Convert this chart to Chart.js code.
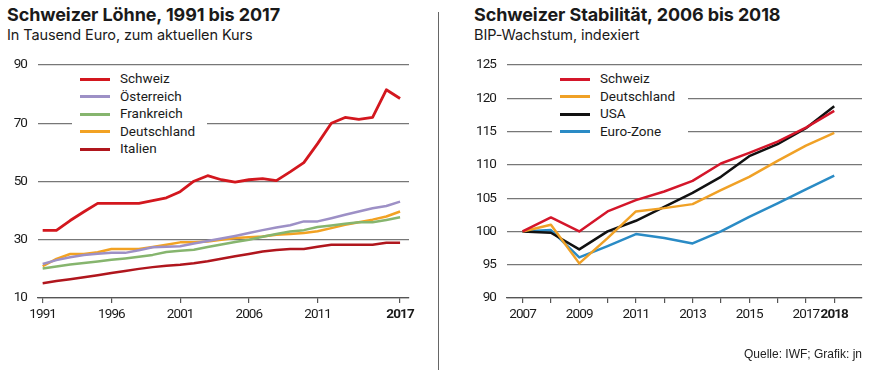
<!DOCTYPE html>
<html>
<head>
<meta charset="utf-8">
<script src="https://cdn.jsdelivr.net/npm/chart.js@4.4.1/dist/chart.umd.min.js"></script>
<style>
    body { margin: 0; background: #fff; width: 873px; height: 374px; overflow: hidden; position: relative; font-family: Roboto, "Liberation Sans", sans-serif; color: #1a1a1a; }
    .title { position: absolute; font-family: Inter, Roboto, sans-serif; font-weight: bold; font-size: 18px; line-height: 20px; white-space: nowrap; letter-spacing: -0.1px; }
    .sub { position: absolute; font-family: Inter, Roboto, sans-serif; font-size: 14.5px; line-height: 18px; white-space: nowrap; letter-spacing: -0.1px; }
    .cv { position: absolute; top: 0; }
    .legend { position: absolute; background: #fff; }
    .legend div { position: relative; height: 17.6px; font-size: 13.5px; line-height: 17.6px; padding-left: 48px; white-space: nowrap; }
    .legend span { position: absolute; left: 8px; top: 7.5px; width: 30px; height: 3px; }
    #divider { position: absolute; left: 438px; top: 12px; width: 1px; height: 358px; background: #666; }
    #source { position: absolute; right: 11px; top: 347px; font-family: "Liberation Sans", Arial, sans-serif; font-size: 12px; color: #222; }
</style>
</head>
<body>
<div class="title" style="left:7px; top:5px;">Schweizer Löhne, 1991 bis 2017</div>
<div class="sub" style="left:7px; top:26px;">In Tausend Euro, zum aktuellen Kurs</div>
<div class="title" style="left:474px; top:5px;">Schweizer Stabilität, 2006 bis 2018</div>
<div class="sub" style="left:474px; top:26px;">BIP-Wachstum, indexiert</div>
<div id="divider"></div>

<div class="cv" style="left:0; width:430px; height:374px;"><canvas id="lohnChart"></canvas></div>
<div class="cv" style="left:440px; width:433px; height:374px;"><canvas id="bipChart"></canvas></div>

<div class="legend" id="legendLeft" style="left:72px; top:70px; width:135px;"></div>
<div class="legend" id="legendRight" style="left:552px; top:70px; width:136px;"></div>

<div id="source">Quelle: IWF; Grafik: jn</div>

<script>
// Löhne, in Tausend Euro
const lohnYears = [1991, 1992, 1993, 1994, 1995, 1996, 1997, 1998, 1999, 2000,
    2001, 2002, 2003, 2004, 2005, 2006, 2007, 2008, 2009, 2010,
    2011, 2012, 2013, 2014, 2015, 2016, 2017];
const lohnSchweiz = [33.2, 33.2, 36.6, 39.6, 42.5, 42.5, 42.5, 42.5, 43.4, 44.4,
    46.5, 50.1, 52, 50.6, 49.8, 50.6, 51, 50.3, 53.3, 56.5,
    63, 70, 72, 71.3, 72, 81.5, 78.5];
const lohnOesterreich = [21.7, 23, 24, 24.8, 25.2, 25.5, 25.5, 26.4, 27.4, 27.6,
    27.8, 28.7, 29.6, 30.4, 31.3, 32.3, 33.3, 34.2, 35, 36.3,
    36.3, 37.4, 38.6, 39.7, 40.8, 41.6, 43.1];
const lohnFrankreich = [20.1, 20.8, 21.5, 22, 22.5, 23.1, 23.6, 24.2, 24.8, 25.8,
    26.2, 26.6, 27.5, 28.4, 29.2, 30, 31, 32, 32.8, 33.3,
    34.4, 34.9, 35.5, 36, 36, 36.8, 37.7];
const lohnDeutschland = [20.9, 23.4, 25.1, 25.1, 25.7, 26.8, 26.8, 26.8, 27.5, 28.3,
    29.1, 29.1, 29.4, 30, 30.6, 30.9, 31.1, 31.7, 32, 32.3,
    32.9, 34, 35.1, 36, 36.9, 38, 39.7];
const lohnItalien = [15.1, 15.8, 16.4, 17.1, 17.8, 18.6, 19.3, 20, 20.6, 21.1,
    21.4, 21.9, 22.6, 23.5, 24.3, 25.1, 26, 26.5, 26.8, 26.8,
    27.6, 28.3, 28.3, 28.3, 28.3, 29, 29];
const lohnTicks = [1991, 1996, 2001, 2006, 2011, 2017];
const lohnYTicks = [10, 30, 50, 70, 90];

// BIP, indexiert (2007 = 100)
const bipYears = [2007, 2008, 2009, 2010, 2011, 2012, 2013, 2014, 2015, 2016, 2017, 2018];
const bipSchweiz = [100, 102.1, 100, 103, 104.7, 106, 107.6, 110.2, 111.8, 113.5, 115.6, 118.1];
const bipDeutschland = [100, 101, 95.2, 99, 103, 103.5, 104.1, 106.2, 108.2, 110.6, 112.9, 114.8];
const bipUSA = [100, 99.8, 97.3, 100, 101.6, 103.7, 105.8, 108.2, 111.3, 113.1, 115.5, 118.8];
const bipEuroZone = [100, 100.2, 96.1, 97.8, 99.6, 99, 98.2, 100, 102.2, 104.2, 106.3, 108.4];
const bipLabelYears = [2007, 2009, 2011, 2013, 2015, 2017, 2018];
const bipYTicks = [90, 95, 100, 105, 110, 115, 120, 125];

const tickFont = 'Roboto, sans-serif';

// schmalere Achsenbeschriftung
const narrowText = {
    id: 'narrowText',
    beforeDraw: function (chart) {
        chart.ctx.letterSpacing = '-0.9px';
    }
};

function Pairs(xs, ys) {
    return ys.map(function (v, i) { return { x: xs[i], y: v }; });
}

function Line(label, xs, ys, color, width) {
    return {
        label: label,
        data: Pairs(xs, ys),
        borderColor: color,
        backgroundColor: color,
        borderWidth: width || 2.5,
        pointRadius: 0,
        tension: 0,
        borderJoinStyle: 'round',
        borderCapStyle: 'butt'
    };
}

function BuildLegend(id, datasets) {
    const box = document.getElementById(id);
    datasets.forEach(function (d) {
        const row = document.createElement('div');
        row.innerHTML = '<span style="background:' + d.borderColor + '"></span>' + d.label;
        box.appendChild(row);
    });
}

function BaseOptions(o) {
    return {
        responsive: true,
        maintainAspectRatio: false,
        animation: false,
        layout: { padding: { left: 0, right: o.padRight, top: 65, bottom: 46 } },
        plugins: { legend: { display: false }, tooltip: { enabled: false } },
        scales: {
            x: {
                type: 'linear',
                min: o.xmin,
                max: o.xmax,
                afterFit: function (s) { s.height = 30; },
                afterBuildTicks: function (s) {
                    s.ticks = o.xTicks.map(function (v) { return { value: v }; });
                },
                border: { display: true, color: '#555', width: 1.2 },
                grid: { drawOnChartArea: false, drawTicks: true, tickLength: 5, color: '#555', lineWidth: 1.2 },
                ticks: {
                    autoSkip: false,
                    maxRotation: 0,
                    padding: 4,
                    color: '#1a1a1a',
                    callback: o.xLabel,
                    font: function (ctx) {
                        const bold = ctx.tick && ctx.tick.value === o.boldYear;
                        return { family: tickFont, size: 13.5, weight: bold ? 'bold' : 'normal' };
                    }
                }
            },
            y: {
                min: o.ymin,
                max: o.ymax,
                afterFit: function (s) { s.width = o.yWidth; },
                afterBuildTicks: function (s) {
                    s.ticks = o.yTicks.map(function (v) { return { value: v }; });
                },
                border: { display: false },
                grid: { drawTicks: false, color: '#777', lineWidth: 1.2, borderDash: [1.5, 2.5] },
                ticks: {
                    padding: 11,
                    color: '#1a1a1a',
                    font: { family: tickFont, size: 13.5 }
                }
            }
        }
    };
}

const lohnData = [
    Line('Schweiz', lohnYears, lohnSchweiz, '#d3171e', 2.8),
    Line('Österreich', lohnYears, lohnOesterreich, '#9d90c6'),
    Line('Frankreich', lohnYears, lohnFrankreich, '#86b56e'),
    Line('Deutschland', lohnYears, lohnDeutschland, '#f2a223'),
    Line('Italien', lohnYears, lohnItalien, '#b0161d')
];

const bipData = [
    Line('Schweiz', bipYears, bipSchweiz, '#d4162a'),
    Line('Deutschland', bipYears, bipDeutschland, '#f0a126'),
    Line('USA', bipYears, bipUSA, '#111111'),
    Line('Euro-Zone', bipYears, bipEuroZone, '#2a8bc5')
];

const lohnChart = new Chart(document.getElementById('lohnChart'), {
    type: 'line',
    data: { datasets: lohnData },
    plugins: [narrowText],
    options: BaseOptions({
        xmin: 1990.66, xmax: 2017.65, xTicks: lohnTicks, boldYear: 2017,
        xLabel: function (v) { return String(v); },
        ymin: 10, ymax: 90, yTicks: lohnYTicks, yWidth: 38, padRight: 21
    })
});

const bipChart = new Chart(document.getElementById('bipChart'), {
    type: 'line',
    data: { datasets: bipData },
    plugins: [narrowText],
    options: BaseOptions({
        xmin: 2006.45, xmax: 2018.98, xTicks: bipYears, boldYear: 2018,
        xLabel: function (v) { return bipLabelYears.indexOf(v) >= 0 ? String(v) : ''; },
        ymin: 90, ymax: 125, yTicks: bipYTicks, yWidth: 67, padRight: 11
    })
});

BuildLegend('legendLeft', lohnData);
BuildLegend('legendRight', bipData);
</script>
</body>
</html>
